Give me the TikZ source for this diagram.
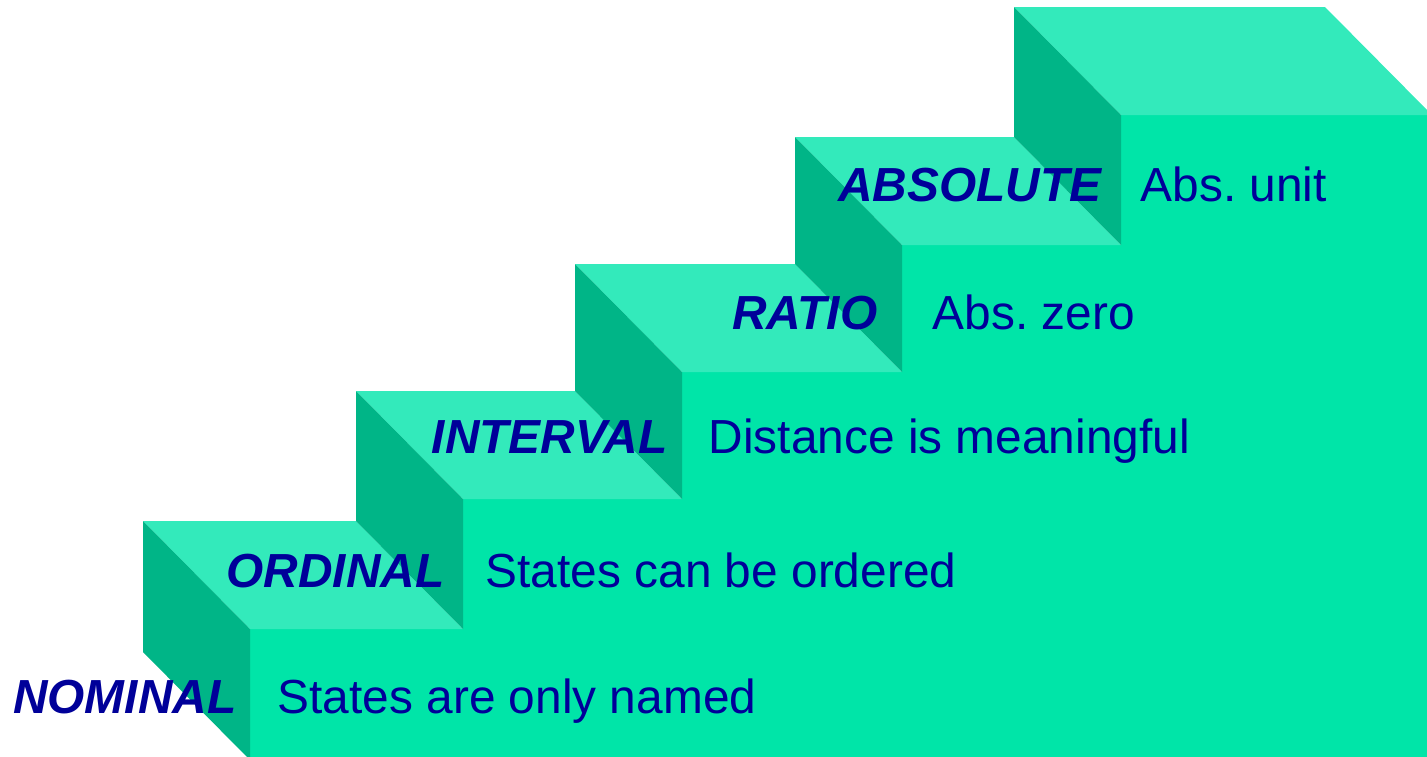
\documentclass[tikz,border=0pt]{standalone}
\usepackage{fontspec}
\setmainfont{Liberation Sans}
\usetikzlibrary{positioning}
\definecolor{stairfront}{HTML}{00E5A8}
\definecolor{stairtop}{HTML}{33EABB}
\definecolor{stairside}{HTML}{00B587}
\definecolor{levelblue}{HTML}{000099}
\frenchspacing

\begin{document}
\begin{tikzpicture}[x=0.01cm,y=-0.01cm,
  frontface/.style={fill=stairfront},
  treadface/.style={fill=stairtop},
  sideface/.style={fill=stairside},
  levelname/.style={font=\fontsize{13.6}{16}\selectfont\bfseries\itshape,
                    text=levelblue,inner sep=0pt},
  leveltext/.style={font=\fontsize{13.6}{16}\selectfont,
                    text=levelblue,inner sep=0pt}
]
  \useasboundingbox (0,0) rectangle (1427,756);
  \clip (0,0) rectangle (1427,756);

  % front of the stairs
  \fill[frontface] (250,770) -- (250,629) -- (463,629) -- (463,499)
    -- (682,499) -- (682,372) -- (902,372) -- (902,245)
    -- (1121,245) -- (1121,115) -- (1440,115) -- (1440,770) -- cycle;

  % treads
  \fill[treadface] (143,521) -- (356,521) -- (463,629) -- (250,629) -- cycle;
  \fill[treadface] (356,391) -- (575,391) -- (682,499) -- (463,499) -- cycle;
  \fill[treadface] (575,264) -- (795,264) -- (902,372) -- (682,372) -- cycle;
  \fill[treadface] (795,137) -- (1014,137) -- (1121,245) -- (902,245) -- cycle;
  \fill[treadface] (1014,7) -- (1325,7) -- (1432,115) -- (1121,115) -- cycle;

  % sides
  \fill[sideface] (143,521) -- (250,629) -- (250,760) -- (143,652) -- cycle;
  \fill[sideface] (356,391) -- (463,499) -- (463,629) -- (356,521) -- cycle;
  \fill[sideface] (575,264) -- (682,372) -- (682,499) -- (575,391) -- cycle;
  \fill[sideface] (795,137) -- (902,245) -- (902,372) -- (795,264) -- cycle;
  \fill[sideface] (1014,7) -- (1121,115) -- (1121,245) -- (1014,137) -- cycle;

  % scale levels
  \node[levelname,anchor=base east] (nominal) at (237,713) {NOMINAL};
  \node[leveltext,base right=0.4cm of nominal] (nominaltext) {States are only named};
  \node[levelname,anchor=base east] (ordinal) at (445,587) {ORDINAL};
  \node[leveltext,base right=0.4cm of ordinal] (ordinaltext) {States can be ordered};
  \node[levelname,anchor=base east] (interval) at (668,453) {INTERVAL};
  \node[leveltext,base right=0.4cm of interval] (intervaltext) {Distance is meaningful};
  \node[levelname,anchor=base east] (ratio) at (878,329) {RATIO};
  \node[leveltext,base right=0.54cm of ratio] (ratiotext) {Abs. zero};
  \node[levelname,anchor=base east] (absolute) at (1102,201) {ABSOLUTE};
  \node[leveltext,base right=0.38cm of absolute] (absolutetext) {Abs. unit};
\end{tikzpicture}
\end{document}
